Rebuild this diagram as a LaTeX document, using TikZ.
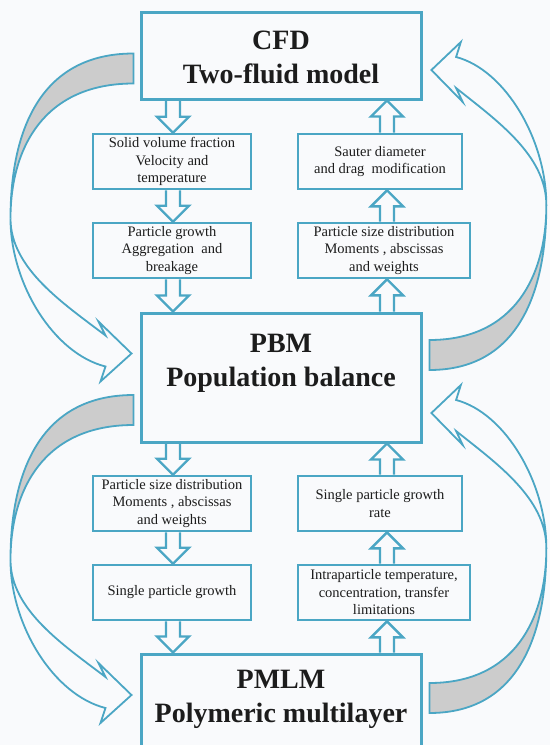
\documentclass[tikz,border=0pt]{standalone}
\usepackage{fontspec}
\setmainfont{Liberation Serif}
\usetikzlibrary{calc}
\definecolor{flowblue}{RGB}{75,166,196}
\definecolor{paper}{RGB}{249,250,252}
\definecolor{ink}{RGB}{28,28,28}

\begin{document}
\begin{tikzpicture}
  [x=1pt,y=-1pt,
   bigbox/.style={draw=flowblue,line width=3pt,minimum width=280pt,inner sep=0pt},
   title/.style={text=ink,align=center,inner sep=0pt,font=\fontsize{28}{34}\selectfont\bfseries},
   smallbox/.style={draw=flowblue,line width=2.6pt,minimum height=55pt,inner sep=0pt,
     text=ink,align=center,font=\fontsize{14.5}{17.5}\selectfont},
   downblock/.style={draw=flowblue,line width=2.4pt,
     to path={($(\tikztostart)+(-7,0)$) -- ($(\tikztotarget)+(-7,-16)$) -- ($(\tikztotarget)+(-16,-16)$)
       -- (\tikztotarget) -- ($(\tikztotarget)+(16,-16)$) -- ($(\tikztotarget)+(7,-16)$) -- ($(\tikztostart)+(7,0)$)}},
   upblock/.style={draw=flowblue,line width=2.4pt,
     to path={($(\tikztostart)+(-7,0)$) -- ($(\tikztotarget)+(-7,16)$) -- ($(\tikztotarget)+(-16,16)$)
       -- (\tikztotarget) -- ($(\tikztotarget)+(16,16)$) -- ($(\tikztotarget)+(7,16)$) -- ($(\tikztostart)+(7,0)$)}},
   ribbonback/.style={draw=flowblue,line width=1.8pt,fill=gray!40},
   ribbonfront/.style={draw=flowblue,line width=1.8pt,fill=paper},
   ribbon/.pic={
     \path[ribbonback] (0,0) .. controls (-95,0) and (-123,80) .. (-123,165)
       .. controls (-123,95) and (-90,30) .. (0,30) -- cycle;
     \path[ribbonfront] (-123,165) .. controls (-123,230) and (-80,300) .. (-28,313)
       -- (-33,328) -- (-2,300) -- (-35,268) -- (-28,282)
       .. controls (-70,250) and (-123,215) .. (-123,165) -- cycle;
   }]
  \useasboundingbox (0,0) rectangle (550,745);
  \clip (0,0) rectangle (550,745);
  \fill[paper] (0,0) rectangle (550,745);

  % the three models
  \node[bigbox,minimum height=87pt] (cfd) at (281,55.5) {};
  \node[title] (cfdtext) at (281,57) {CFD\\Two-fluid model};
  \node[bigbox,minimum height=129pt] (pbm) at (281,377.5) {};
  \node[title] (pbmtext) at (281,363) {PBM\\Population balance};
  \node[bigbox,minimum height=100pt] (pmlm) at (281,704) {};
  \node[title] (pmlmtext) at (281,699) {PMLM\\Polymeric multilayer};

  % exchanged quantities
  \node[smallbox,minimum width=158pt] (l1) at (172,161.5) {Solid volume fraction\\Velocity and\\temperature};
  \node[smallbox,minimum width=158pt] (l2) at (172,250.5) {Particle growth\\Aggregation~ and\\breakage};
  \node[smallbox,minimum width=164pt] (r1) at (380,161.5) {Sauter diameter\\and drag~ modification};
  \node[smallbox,minimum width=172pt] (r2) at (384,250.5) {Particle size distribution\\Moments , abscissas\\and weights};
  \node[smallbox,minimum width=158pt] (l3) at (172,503.5) {Particle size distribution\\Moments , abscissas\\and weights};
  \node[smallbox,minimum width=158pt] (l4) at (172,592.5) {Single particle growth};
  \node[smallbox,minimum width=164pt] (r3) at (380,503.5) {Single particle growth\\rate};
  \node[smallbox,minimum width=172pt] (r4) at (384,592.5) {Intraparticle temperature,\\concentration, transfer\\limitations};

  \coordinate (lx) at (173,0);
  \coordinate (rx) at (387,0);

  % going down
  \draw[downblock] (cfd.south -| lx) to (l1.north -| lx);
  \draw[downblock] (l1.south -| lx) to (l2.north -| lx);
  \draw[downblock] (l2.south -| lx) to (pbm.north -| lx);
  \draw[downblock] (pbm.south -| lx) to (l3.north -| lx);
  \draw[downblock] (l3.south -| lx) to (l4.north -| lx);
  \draw[downblock] (l4.south -| lx) to (pmlm.north -| lx);
  % going up
  \draw[upblock] (r2.north -| rx) to (r1.south -| rx);
  \draw[upblock] (r1.north -| rx) to (cfd.south -| rx);
  \draw[upblock] (pbm.north -| rx) to (r2.south -| rx);
  \draw[upblock] (r4.north -| rx) to (r3.south -| rx);
  \draw[upblock] (r3.north -| rx) to (pbm.south -| rx);
  \draw[upblock] (pmlm.north -| rx) to (r4.south -| rx);

  % coupling loops
  \pic at ([xshift=-6pt,yshift=2pt]cfd.west) {ribbon};
  \pic at ([xshift=-6pt,yshift=-17.5pt]pbm.west) {ribbon};
  \pic[rotate=180,xscale=0.95] at ([xshift=7pt,yshift=7.5pt]pbm.east) {ribbon};
  \pic[rotate=180,xscale=0.95] at ([xshift=7pt,yshift=-9pt]pmlm.east) {ribbon};
\end{tikzpicture}
\end{document}
